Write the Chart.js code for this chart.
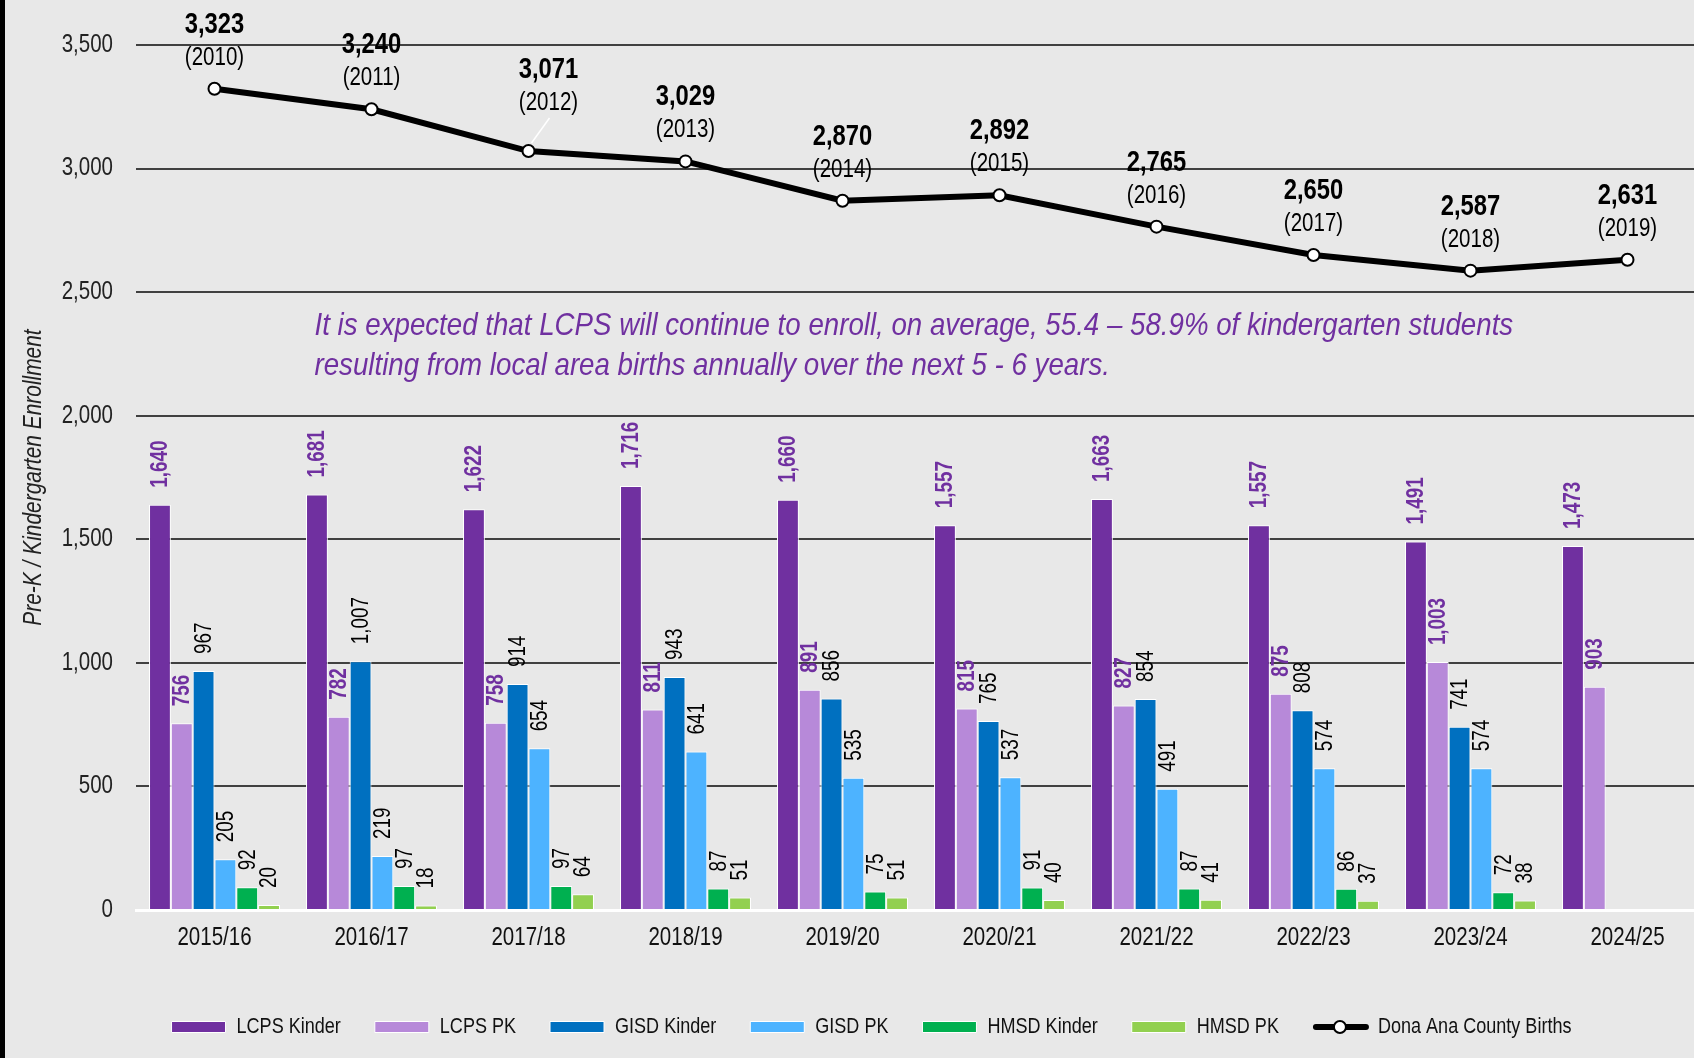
<!DOCTYPE html>
<html>
<head>
<meta charset="utf-8">
<script src="https://cdn.jsdelivr.net/npm/chart.js@4.4.1/dist/chart.umd.min.js"></script>
<style>
  html, body { margin: 0; padding: 0; background: #e8e8e8; overflow: hidden; }
  body { width: 1694px; height: 1058px; position: relative; }
  #edge { position: absolute; left: 0; top: 0; width: 5px; height: 1058px; background: #000; }
  #wrap { position: absolute; left: 5px; top: 0; width: 1709px; height: 1058px; }
</style>
</head>
<body>
<div id="edge"></div>
<div id="wrap"><canvas id="enrollChart" width="1709" height="1058"></canvas></div>
<script>
// school years on the x axis
const schoolYears = ['2015/16', '2016/17', '2017/18', '2018/19', '2019/20', '2020/21', '2021/22', '2022/23', '2023/24', '2024/25'];

// enrollment by district
const lcpsKinder = [1640, 1681, 1622, 1716, 1660, 1557, 1663, 1557, 1491, 1473];
const lcpsPK     = [756, 782, 758, 811, 891, 815, 827, 875, 1003, 903];
const gisdKinder = [967, 1007, 914, 943, 856, 765, 854, 808, 741, null];
const gisdPK     = [205, 219, 654, 641, 535, 537, 491, 574, 574, null];
const hmsdKinder = [92, 97, 97, 87, 75, 91, 87, 86, 72, null];
const hmsdPK     = [20, 18, 64, 51, 51, 40, 41, 37, 38, null];

// county births, five years before each school year
const countyBirths = [3323, 3240, 3071, 3029, 2870, 2892, 2765, 2650, 2587, 2631];
const birthYears   = ['2010', '2011', '2012', '2013', '2014', '2015', '2016', '2017', '2018', '2019'];

const yTicks = [0, 500, 1000, 1500, 2000, 2500, 3000, 3500];

const noteLines = [
    'It is expected that LCPS will continue to enroll, on average, 55.4 \u2013 58.9% of kindergarten students',
    'resulting from local area births annually over the next 5 - 6 years.'
];

// no Arial Narrow here: squeeze Liberation Sans horizontally instead
let narrow = 0.82;
const proto = CanvasRenderingContext2D.prototype;
const rawFill = proto.fillText;
const rawMeasure = proto.measureText;
proto.fillText = function (text, x, y, maxWidth) {
    this.save();
    this.translate(x, y);
    this.scale(narrow, 1);
    if (maxWidth === undefined) rawFill.call(this, text, 0, 0);
    else rawFill.call(this, text, 0, 0, maxWidth / narrow);
    this.restore();
};
proto.measureText = function (text) {
    const m = rawMeasure.call(this, text);
    return {
        width: m.width * narrow,
        actualBoundingBoxLeft: m.actualBoundingBoxLeft * narrow,
        actualBoundingBoxRight: m.actualBoundingBoxRight * narrow,
        actualBoundingBoxAscent: m.actualBoundingBoxAscent,
        actualBoundingBoxDescent: m.actualBoundingBoxDescent,
        fontBoundingBoxAscent: m.fontBoundingBoxAscent,
        fontBoundingBoxDescent: m.fontBoundingBoxDescent
    };
};

const FONT = "'Liberation Sans', Arial, sans-serif";
const PURPLE = '#7030a0';
const fmt = v => v.toLocaleString('en-US');

// the 2012 births label sits a bit higher with a leader line
const lineLabelNudge = { 2: [20, -17] };
const LEGEND_SHIFT = 12;

const barSet = (label, data, color, labelColor, labelBold) => ({
    type: 'bar',
    label: label,
    data: data,
    backgroundColor: color,
    borderColor: '#ffffff',
    borderWidth: 1,
    categoryPercentage: 0.834,
    barPercentage: 1,
    order: 1,
    labelColor: labelColor,
    labelBold: labelBold
});

const valueLabels = {
    id: 'valueLabels',
    afterUpdate(chart) {
        // nudge the legend so it sits centred like the original
        const lg = chart.legend;
        lg.left += LEGEND_SHIFT;
        lg.right += LEGEND_SHIFT;
        lg.legendHitBoxes.forEach(h => { h.left += LEGEND_SHIFT; });
    },
    afterDatasetsDraw(chart) {
        const ctx = chart.ctx;
        ctx.save();
        chart.data.datasets.forEach((ds, i) => {
            const meta = chart.getDatasetMeta(i);
            if (ds.type === 'line') {
                ctx.textAlign = 'center';
                ctx.textBaseline = 'middle';
                ctx.fillStyle = '#000';
                meta.data.forEach((pt, j) => {
                    const nudge = lineLabelNudge[j] || [0, 0];
                    const x = pt.x + nudge[0];
                    const y = pt.y + nudge[1];
                    if (nudge[0] || nudge[1]) {
                        ctx.strokeStyle = '#ffffff';
                        ctx.lineWidth = 1.5;
                        ctx.beginPath();
                        ctx.moveTo(pt.x + 3, pt.y - 8);
                        ctx.lineTo(pt.x + 21, pt.y - 33);
                        ctx.stroke();
                    }
                    ctx.font = 'bold 29px ' + FONT;
                    ctx.fillText(fmt(ds.data[j]), x, y - 64);
                    ctx.font = '25px ' + FONT;
                    ctx.fillText('(' + birthYears[j] + ')', x, y - 31);
                });
            } else {
                ctx.textAlign = 'left';
                ctx.textBaseline = 'middle';
                ctx.fillStyle = ds.labelColor;
                ctx.font = (ds.labelBold ? 'bold ' : '') + '23px ' + FONT;
                meta.data.forEach((bar, j) => {
                    if (ds.data[j] == null) return;
                    ctx.save();
                    ctx.translate(bar.x, bar.y - 17);
                    ctx.rotate(-Math.PI / 2);
                    ctx.fillText(fmt(ds.data[j]), 0, 1);
                    ctx.restore();
                });
            }
        });

        // note in the middle of the chart, set a little wider
        const xs = chart.scales.x, ys = chart.scales.y;
        ctx.font = 'italic 32px ' + FONT;
        ctx.fillStyle = PURPLE;
        ctx.textAlign = 'left';
        ctx.textBaseline = 'middle';
        const nx = xs.getPixelForValue(0) + 100;
        const ny = ys.getPixelForValue(2362);
        narrow = 0.865;
        noteLines.forEach((t, k) => ctx.fillText(t, nx, ny + k * 40));
        narrow = 0.82;
        ctx.restore();
    },
    afterDraw(chart) {
        // legend marker for the births line: thick line with an open circle
        const lg = chart.legend;
        const idx = lg.legendItems.findIndex(it => chart.data.datasets[it.datasetIndex].type === 'line');
        const hb = lg.legendHitBoxes[idx];
        if (!hb) return;
        const ctx = chart.ctx;
        const cx = hb.left + 27;
        const cy = hb.top + hb.height / 2;
        ctx.save();
        ctx.strokeStyle = '#000';
        ctx.lineWidth = 6;
        ctx.lineCap = 'round';
        ctx.beginPath();
        ctx.moveTo(hb.left + 3, cy);
        ctx.lineTo(hb.left + 53, cy);
        ctx.stroke();
        ctx.beginPath();
        ctx.arc(cx, cy, 6, 0, Math.PI * 2);
        ctx.fillStyle = '#fff';
        ctx.fill();
        ctx.lineWidth = 2;
        ctx.stroke();
        ctx.restore();
    }
};

const ctx = document.getElementById('enrollChart').getContext('2d');
new Chart(ctx, {
    data: {
        labels: schoolYears,
        datasets: [
            barSet('LCPS Kinder', lcpsKinder, '#7030a0', PURPLE, true),
            barSet('LCPS PK', lcpsPK, '#b789d9', PURPLE, true),
            barSet('GISD Kinder', gisdKinder, '#0070c0', '#000', false),
            barSet('GISD PK', gisdPK, '#4db3ff', '#000', false),
            barSet('HMSD Kinder', hmsdKinder, '#00b050', '#000', false),
            barSet('HMSD PK', hmsdPK, '#92d050', '#000', false),
            {
                type: 'line',
                label: 'Dona Ana County Births',
                data: countyBirths,
                borderColor: '#000',
                borderWidth: 6,
                backgroundColor: '#fff',
                pointRadius: 6,
                pointBorderWidth: 2,
                pointBackgroundColor: '#fff',
                pointBorderColor: '#000',
                tension: 0,
                order: 0
            }
        ]
    },
    options: {
        responsive: false,
        animation: false,
        layout: { padding: { top: 45, bottom: 10, left: 0, right: 0 } },
        plugins: {
            legend: {
                position: 'bottom',
                labels: {
                    color: '#111',
                    font: { family: FONT, size: 22 },
                    boxWidth: 54,
                    boxHeight: 11,
                    padding: 34,
                    sort: (a, b) => a.datasetIndex - b.datasetIndex,
                    generateLabels(chart) {
                        const items = Chart.defaults.plugins.legend.labels.generateLabels(chart);
                        items.forEach(it => {
                            if (chart.data.datasets[it.datasetIndex].type === 'line') {
                                it.fillStyle = 'rgba(0,0,0,0)';
                                it.strokeStyle = 'rgba(0,0,0,0)';
                                it.lineWidth = 0;
                            }
                        });
                        return items;
                    }
                }
            },
            tooltip: { enabled: false }
        },
        scales: {
            x: {
                grid: { display: false, drawTicks: false },
                border: { color: '#ffffff', width: 3 },
                ticks: { color: '#111', font: { family: FONT, size: 25 }, padding: 13 },
                afterFit: s => { s.height = 72; }
            },
            y: {
                min: 0,
                max: 3500,
                afterBuildTicks: s => { s.ticks = yTicks.map(v => ({ value: v })); },
                ticks: {
                    color: '#222',
                    font: { family: FONT, size: 25 },
                    padding: 23,
                    callback: v => fmt(v)
                },
                grid: {
                    color: c => c.tick && c.tick.value === 0 ? 'rgba(0,0,0,0)' : '#404040',
                    lineWidth: 2,
                    drawTicks: false
                },
                border: { display: false },
                title: {
                    display: true,
                    text: 'Pre-K / Kindergarten Enrollment',
                    color: '#222',
                    font: { family: FONT, size: 25.5, style: 'italic' },
                    padding: { top: 14, bottom: 0 }
                },
                afterFit: s => { s.width = 131; }
            }
        }
    },
    plugins: [valueLabels]
});
</script>
</body>
</html>
